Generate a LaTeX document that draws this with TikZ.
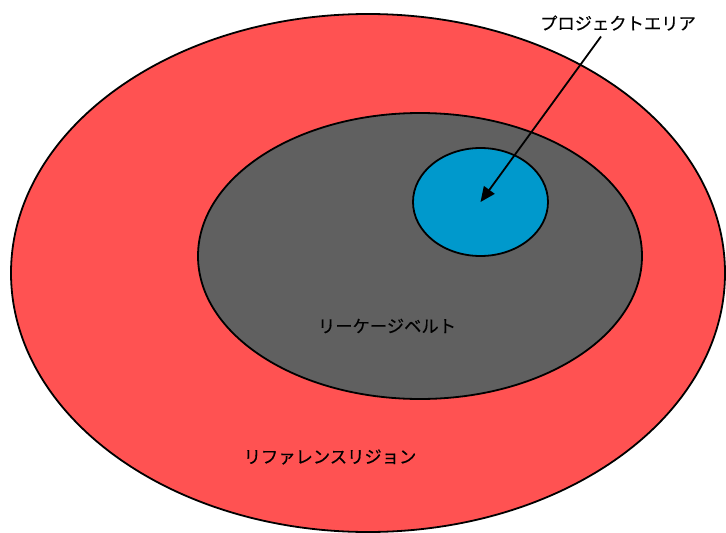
\documentclass[tikz,border=0pt]{standalone}
\usepackage{fontspec}
\newfontfamily\jpfont[FakeBold=0.4]{Noto Sans CJK JP}
\usetikzlibrary{shapes.geometric,arrows.meta}
\definecolor{refred}{RGB}{255,82,82}
\definecolor{beltgray}{RGB}{96,96,96}
\definecolor{projblue}{RGB}{0,153,204}

\begin{document}
\begin{tikzpicture}[x=1pt,y=-1pt,line width=1.8pt,
  zone/.style={ellipse,draw=black,inner sep=0pt},
  lbl/.style={font=\jpfont\fontsize{17.3}{19}\selectfont,inner sep=0pt},
  pointer/.style={-{Triangle[length=15pt,width=13pt]}}]
  \clip (0,0) rectangle (726,533);
  \node[zone,fill=refred,minimum width=714pt,minimum height=518pt] (ref) at (368,273) {};
  \node[zone,fill=beltgray,minimum width=444pt,minimum height=286pt] (belt) at (420,256) {};
  \node[zone,fill=projblue,minimum width=135pt,minimum height=108pt] (proj) at (480.5,202) {};
  % labels
  \node[lbl] (projlbl) at (618,23) {プロジェクトエリア};
  \node[lbl] (beltlbl) at (387,326) {リーケージベルト};
  \node[lbl] (reflbl) at (330,457) {リファレンスリジョン};
  \draw[pointer] ([shift={(-17,5)}]projlbl.south) -- (proj.center);
\end{tikzpicture}
\end{document}
